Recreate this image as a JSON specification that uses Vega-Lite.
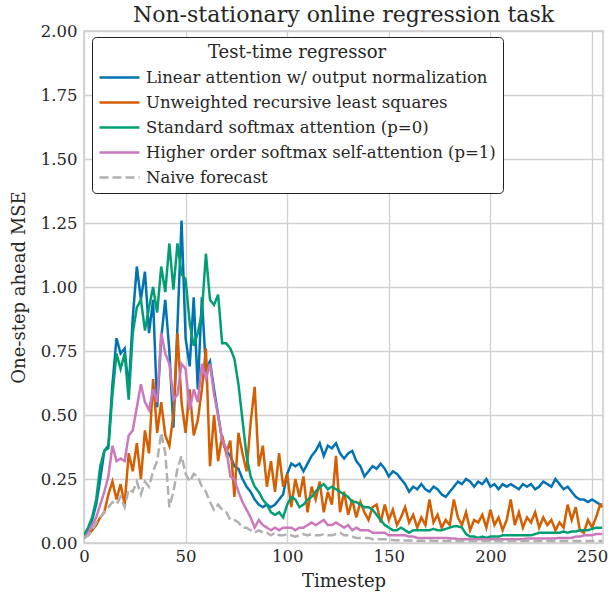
{
  "$schema": "https://vega.github.io/schema/vega-lite/v6.json",
  "width": 519,
  "height": 512,
  "autosize": {"type": "none"},
  "padding": {"left": 84, "top": 31, "right": 5, "bottom": 56},
  "background": "white",
  "title": {"text": "Non-stationary online regression task", "fontSize": 22, "font": "DejaVu Serif", "fontWeight": "normal", "color": "#262626", "anchor": "middle", "offset": -4},
  "config": {
    "view": {"stroke": "#cccccc", "strokeWidth": 1.5},
    "axis": {"labelFont": "DejaVu Serif", "titleFont": "DejaVu Serif", "labelFontSize": 16.5, "titleFontSize": 18, "titleFontWeight": "normal", "labelColor": "#262626", "titleColor": "#262626", "gridColor": "#d0d0d0", "gridWidth": 1.3, "domain": false, "ticks": false, "labelPadding": 7, "labelFlush": false},
    "legend": {"labelFont": "DejaVu Serif", "titleFont": "DejaVu Serif", "orient": "none", "legendX": 8, "legendY": 6, "symbolType": "M-2,0L2,0", "symbolSize": 400, "symbolStrokeWidth": 2.5, "symbolOffset": 9, "labelFontSize": 16.5, "titleFontSize": 18, "titleFontWeight": "normal", "titleAnchor": "middle", "labelColor": "#262626", "titleColor": "#262626", "labelLimit": 500, "padding": 7, "rowPadding": 5, "titlePadding": 4, "labelOffset": 15, "fillColor": "white", "strokeColor": "#222222", "cornerRadius": 4}
  },
  "data": {"values": [
    {"t":0,"a":0.03,"b":0.02,"c":0.03,"d":0.02,"e":0.02},
    {"t":2,"a":0.05,"b":0.03,"c":0.06,"d":0.04,"e":0.03},
    {"t":4,"a":0.09,"b":0.05,"c":0.10,"d":0.07,"e":0.05},
    {"t":6,"a":0.15,"b":0.07,"c":0.17,"d":0.10,"e":0.08},
    {"t":8,"a":0.25,"b":0.10,"c":0.30,"d":0.15,"e":0.10},
    {"t":10,"a":0.36,"b":0.12,"c":0.36,"d":0.20,"e":0.12},
    {"t":12,"a":0.38,"b":0.19,"c":0.37,"d":0.26,"e":0.14},
    {"t":14,"a":0.62,"b":0.24,"c":0.58,"d":0.38,"e":0.16},
    {"t":16,"a":0.80,"b":0.17,"c":0.74,"d":0.32,"e":0.15},
    {"t":18,"a":0.74,"b":0.23,"c":0.68,"d":0.33,"e":0.18},
    {"t":20,"a":0.76,"b":0.15,"c":0.74,"d":0.32,"e":0.14},
    {"t":22,"a":0.60,"b":0.35,"c":0.56,"d":0.42,"e":0.21},
    {"t":24,"a":0.88,"b":0.28,"c":0.82,"d":0.44,"e":0.20},
    {"t":26,"a":1.08,"b":0.39,"c":0.92,"d":0.53,"e":0.24},
    {"t":28,"a":0.95,"b":0.25,"c":0.95,"d":0.62,"e":0.19},
    {"t":30,"a":1.06,"b":0.44,"c":0.83,"d":0.55,"e":0.24},
    {"t":32,"a":0.82,"b":0.35,"c":0.92,"d":0.52,"e":0.22},
    {"t":34,"a":0.95,"b":0.64,"c":1.00,"d":0.60,"e":0.28},
    {"t":36,"a":0.53,"b":0.43,"c":0.90,"d":0.55,"e":0.32},
    {"t":38,"a":0.80,"b":0.55,"c":1.08,"d":0.82,"e":0.43},
    {"t":40,"a":0.95,"b":0.42,"c":0.98,"d":0.74,"e":0.35},
    {"t":42,"a":0.75,"b":0.38,"c":1.17,"d":0.70,"e":0.14},
    {"t":44,"a":0.45,"b":0.50,"c":0.99,"d":0.56,"e":0.20},
    {"t":46,"a":0.85,"b":0.82,"c":1.17,"d":0.58,"e":0.29},
    {"t":48,"a":1.26,"b":0.55,"c":1.05,"d":0.70,"e":0.34},
    {"t":50,"a":0.80,"b":0.43,"c":1.03,"d":0.68,"e":0.27},
    {"t":52,"a":0.69,"b":0.60,"c":0.86,"d":0.52,"e":0.24},
    {"t":54,"a":0.96,"b":0.42,"c":0.77,"d":0.60,"e":0.27},
    {"t":56,"a":0.60,"b":0.48,"c":0.82,"d":0.55,"e":0.26},
    {"t":58,"a":0.96,"b":0.60,"c":0.90,"d":0.70,"e":0.22},
    {"t":60,"a":0.68,"b":0.76,"c":1.13,"d":0.64,"e":0.20},
    {"t":62,"a":0.71,"b":0.30,"c":0.95,"d":0.70,"e":0.16},
    {"t":64,"a":0.60,"b":0.50,"c":0.93,"d":0.58,"e":0.13},
    {"t":66,"a":0.50,"b":0.32,"c":0.97,"d":0.50,"e":0.15},
    {"t":68,"a":0.40,"b":0.42,"c":0.78,"d":0.40,"e":0.13},
    {"t":70,"a":0.36,"b":0.35,"c":0.78,"d":0.37,"e":0.12},
    {"t":72,"a":0.34,"b":0.40,"c":0.76,"d":0.26,"e":0.09},
    {"t":74,"a":0.30,"b":0.18,"c":0.72,"d":0.25,"e":0.09},
    {"t":76,"a":0.29,"b":0.43,"c":0.62,"d":0.20,"e":0.08},
    {"t":78,"a":0.25,"b":0.35,"c":0.48,"d":0.16,"e":0.06},
    {"t":80,"a":0.22,"b":0.28,"c":0.34,"d":0.13,"e":0.06},
    {"t":82,"a":0.20,"b":0.47,"c":0.26,"d":0.10,"e":0.05},
    {"t":84,"a":0.17,"b":0.61,"c":0.22,"d":0.06,"e":0.04},
    {"t":86,"a":0.15,"b":0.30,"c":0.20,"d":0.09,"e":0.05},
    {"t":88,"a":0.14,"b":0.38,"c":0.17,"d":0.07,"e":0.04},
    {"t":90,"a":0.15,"b":0.22,"c":0.15,"d":0.06,"e":0.04},
    {"t":92,"a":0.14,"b":0.32,"c":0.12,"d":0.05,"e":0.03},
    {"t":94,"a":0.15,"b":0.20,"c":0.11,"d":0.06,"e":0.04},
    {"t":96,"a":0.17,"b":0.35,"c":0.12,"d":0.05,"e":0.03},
    {"t":98,"a":0.19,"b":0.22,"c":0.10,"d":0.06,"e":0.03},
    {"t":100,"a":0.27,"b":0.27,"c":0.15,"d":0.06,"e":0.035},
    {"t":102,"a":0.31,"b":0.14,"c":0.18,"d":0.06,"e":0.03},
    {"t":104,"a":0.30,"b":0.25,"c":0.17,"d":0.05,"e":0.025},
    {"t":106,"a":0.31,"b":0.18,"c":0.14,"d":0.06,"e":0.03},
    {"t":108,"a":0.28,"b":0.26,"c":0.15,"d":0.06,"e":0.035},
    {"t":110,"a":0.31,"b":0.12,"c":0.17,"d":0.07,"e":0.03},
    {"t":112,"a":0.34,"b":0.22,"c":0.18,"d":0.08,"e":0.035},
    {"t":114,"a":0.36,"b":0.17,"c":0.20,"d":0.07,"e":0.03},
    {"t":116,"a":0.39,"b":0.24,"c":0.22,"d":0.08,"e":0.03},
    {"t":118,"a":0.34,"b":0.12,"c":0.23,"d":0.09,"e":0.035},
    {"t":120,"a":0.38,"b":0.20,"c":0.21,"d":0.07,"e":0.03},
    {"t":122,"a":0.37,"b":0.15,"c":0.22,"d":0.07,"e":0.03},
    {"t":124,"a":0.39,"b":0.34,"c":0.21,"d":0.08,"e":0.035},
    {"t":126,"a":0.35,"b":0.12,"c":0.20,"d":0.07,"e":0.04},
    {"t":128,"a":0.33,"b":0.20,"c":0.19,"d":0.06,"e":0.03},
    {"t":130,"a":0.35,"b":0.11,"c":0.18,"d":0.07,"e":0.03},
    {"t":132,"a":0.36,"b":0.17,"c":0.16,"d":0.05,"e":0.025},
    {"t":134,"a":0.32,"b":0.10,"c":0.16,"d":0.06,"e":0.02},
    {"t":136,"a":0.30,"b":0.16,"c":0.15,"d":0.05,"e":0.02},
    {"t":138,"a":0.26,"b":0.12,"c":0.14,"d":0.05,"e":0.02},
    {"t":140,"a":0.28,"b":0.09,"c":0.14,"d":0.05,"e":0.02},
    {"t":142,"a":0.30,"b":0.14,"c":0.13,"d":0.04,"e":0.015},
    {"t":144,"a":0.29,"b":0.15,"c":0.11,"d":0.04,"e":0.015},
    {"t":146,"a":0.31,"b":0.08,"c":0.09,"d":0.04,"e":0.015},
    {"t":148,"a":0.29,"b":0.15,"c":0.07,"d":0.04,"e":0.015},
    {"t":150,"a":0.26,"b":0.09,"c":0.06,"d":0.03,"e":0.012},
    {"t":152,"a":0.28,"b":0.13,"c":0.05,"d":0.03,"e":0.012},
    {"t":154,"a":0.27,"b":0.07,"c":0.05,"d":0.03,"e":0.01},
    {"t":156,"a":0.25,"b":0.10,"c":0.06,"d":0.03,"e":0.012},
    {"t":158,"a":0.23,"b":0.14,"c":0.05,"d":0.03,"e":0.01},
    {"t":160,"a":0.20,"b":0.08,"c":0.04,"d":0.025,"e":0.01},
    {"t":162,"a":0.22,"b":0.11,"c":0.05,"d":0.025,"e":0.01},
    {"t":164,"a":0.21,"b":0.06,"c":0.05,"d":0.02,"e":0.008},
    {"t":166,"a":0.23,"b":0.10,"c":0.05,"d":0.02,"e":0.01},
    {"t":168,"a":0.21,"b":0.07,"c":0.05,"d":0.02,"e":0.008},
    {"t":170,"a":0.20,"b":0.17,"c":0.05,"d":0.02,"e":0.01},
    {"t":172,"a":0.22,"b":0.08,"c":0.055,"d":0.02,"e":0.008},
    {"t":174,"a":0.21,"b":0.11,"c":0.05,"d":0.02,"e":0.008},
    {"t":176,"a":0.19,"b":0.06,"c":0.05,"d":0.02,"e":0.008},
    {"t":178,"a":0.18,"b":0.09,"c":0.055,"d":0.02,"e":0.008},
    {"t":180,"a":0.20,"b":0.07,"c":0.06,"d":0.018,"e":0.008},
    {"t":182,"a":0.22,"b":0.17,"c":0.065,"d":0.018,"e":0.008},
    {"t":184,"a":0.24,"b":0.10,"c":0.065,"d":0.015,"e":0.008},
    {"t":186,"a":0.23,"b":0.07,"c":0.06,"d":0.015,"e":0.008},
    {"t":188,"a":0.25,"b":0.12,"c":0.035,"d":0.015,"e":0.008},
    {"t":190,"a":0.24,"b":0.05,"c":0.025,"d":0.015,"e":0.008},
    {"t":192,"a":0.22,"b":0.09,"c":0.025,"d":0.015,"e":0.008},
    {"t":194,"a":0.24,"b":0.08,"c":0.02,"d":0.015,"e":0.008},
    {"t":196,"a":0.23,"b":0.11,"c":0.025,"d":0.015,"e":0.008},
    {"t":198,"a":0.25,"b":0.06,"c":0.02,"d":0.015,"e":0.008},
    {"t":200,"a":0.22,"b":0.13,"c":0.025,"d":0.015,"e":0.008},
    {"t":202,"a":0.23,"b":0.07,"c":0.025,"d":0.015,"e":0.008},
    {"t":204,"a":0.21,"b":0.10,"c":0.025,"d":0.015,"e":0.008},
    {"t":206,"a":0.23,"b":0.05,"c":0.03,"d":0.015,"e":0.008},
    {"t":208,"a":0.22,"b":0.09,"c":0.03,"d":0.015,"e":0.008},
    {"t":210,"a":0.23,"b":0.17,"c":0.03,"d":0.015,"e":0.008},
    {"t":212,"a":0.22,"b":0.07,"c":0.03,"d":0.015,"e":0.008},
    {"t":214,"a":0.21,"b":0.12,"c":0.03,"d":0.015,"e":0.008},
    {"t":216,"a":0.23,"b":0.06,"c":0.03,"d":0.015,"e":0.008},
    {"t":218,"a":0.22,"b":0.10,"c":0.03,"d":0.018,"e":0.008},
    {"t":220,"a":0.23,"b":0.08,"c":0.03,"d":0.018,"e":0.008},
    {"t":222,"a":0.21,"b":0.12,"c":0.035,"d":0.018,"e":0.008},
    {"t":224,"a":0.22,"b":0.06,"c":0.04,"d":0.018,"e":0.008},
    {"t":226,"a":0.24,"b":0.10,"c":0.04,"d":0.018,"e":0.008},
    {"t":228,"a":0.23,"b":0.07,"c":0.04,"d":0.018,"e":0.008},
    {"t":230,"a":0.22,"b":0.09,"c":0.04,"d":0.018,"e":0.008},
    {"t":232,"a":0.25,"b":0.05,"c":0.04,"d":0.018,"e":0.008},
    {"t":234,"a":0.23,"b":0.08,"c":0.04,"d":0.02,"e":0.008},
    {"t":236,"a":0.21,"b":0.06,"c":0.045,"d":0.02,"e":0.008},
    {"t":238,"a":0.22,"b":0.15,"c":0.04,"d":0.02,"e":0.008},
    {"t":240,"a":0.20,"b":0.09,"c":0.045,"d":0.02,"e":0.008},
    {"t":242,"a":0.18,"b":0.14,"c":0.045,"d":0.025,"e":0.008},
    {"t":244,"a":0.17,"b":0.05,"c":0.05,"d":0.025,"e":0.008},
    {"t":246,"a":0.17,"b":0.04,"c":0.05,"d":0.03,"e":0.008},
    {"t":248,"a":0.16,"b":0.09,"c":0.05,"d":0.03,"e":0.008},
    {"t":250,"a":0.17,"b":0.06,"c":0.055,"d":0.03,"e":0.008},
    {"t":252,"a":0.16,"b":0.10,"c":0.06,"d":0.035,"e":0.008},
    {"t":254,"a":0.15,"b":0.15,"c":0.06,"d":0.035,"e":0.008},
    {"t":255,"a":0.15,"b":0.14,"c":0.06,"d":0.035,"e":0.008}
  ]},
  "transform": [{"fold": ["a", "b", "c", "d", "e"], "as": ["series", "mse"]}],
  "mark": {"type": "line", "strokeWidth": 2.5, "clip": true},
  "encoding": {
    "x": {"field": "t", "type": "quantitative", "title": "Timestep", "scale": {"domain": [0, 255.4], "nice": false, "zero": false}, "axis": {"values": [0, 50, 100, 150, 200, 250], "labelPadding": 5, "titlePadding": 8}},
    "y": {"field": "mse", "type": "quantitative", "title": "One-step ahead MSE", "scale": {"domain": [0, 2], "nice": false}, "axis": {"values": [0, 0.25, 0.5, 0.75, 1, 1.25, 1.5, 1.75, 2], "format": ".2f", "titlePadding": 12}},
    "color": {
      "field": "series", "type": "nominal", "title": "Test-time regressor",
      "scale": {"domain": ["a", "b", "c", "d", "e"], "range": ["#0173b2", "#d55e00", "#029e73", "#cc78bc", "#b0b0b0"]},
      "legend": {"labelExpr": "datum.value == 'a' ? 'Linear attention w/ output normalization' : datum.value == 'b' ? 'Unweighted recursive least squares' : datum.value == 'c' ? 'Standard softmax attention (p=0)' : datum.value == 'd' ? 'Higher order softmax self-attention (p=1)' : 'Naive forecast'"}
    },
    "strokeDash": {
      "field": "series", "type": "nominal", "title": "Test-time regressor",
      "scale": {"domain": ["a", "b", "c", "d", "e"], "range": [[1, 0], [1, 0], [1, 0], [1, 0], [9, 4]]},
      "legend": {"labelExpr": "datum.value == 'a' ? 'Linear attention w/ output normalization' : datum.value == 'b' ? 'Unweighted recursive least squares' : datum.value == 'c' ? 'Standard softmax attention (p=0)' : datum.value == 'd' ? 'Higher order softmax self-attention (p=1)' : 'Naive forecast'"}
    }
  }
}
